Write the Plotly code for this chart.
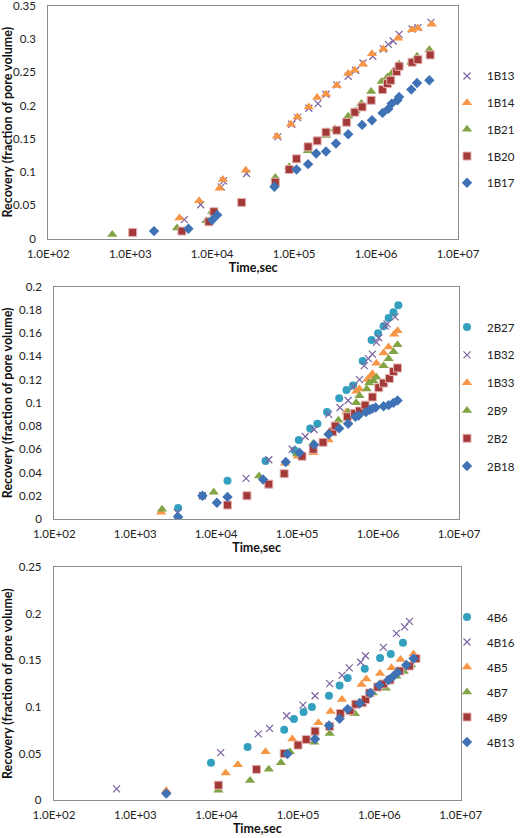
import plotly.graph_objects as go

# ---------------- Panel 1 ----------------
p1_names = ["1B13", "1B14", "1B21", "1B20", "1B17"]
t_1B13 = [4.57e3, 7.24e3, 1.29e4, 1.38e4, 2.63e4, 6.31e4, 9.33e4, 1.10e5, 1.51e5, 1.95e5, 2.45e5, 3.31e5,
          4.57e5, 5.62e5, 6.92e5, 9.12e5, 1.23e6, 1.41e6, 1.62e6, 1.91e6, 2.75e6, 3.24e6, 4.68e6]
r_1B13 = [0.0286, 0.051, 0.078, 0.087, 0.098, 0.153, 0.172, 0.182, 0.196, 0.203, 0.217, 0.231,
          0.244, 0.253, 0.264, 0.274, 0.285, 0.292, 0.297, 0.307, 0.315, 0.317, 0.325]
t_1B14 = [3.98e3, 6.92e3, 1.23e4, 1.35e4, 2.57e4, 6.17e4, 9.12e4, 1.10e5, 1.51e5, 1.91e5, 2.45e5, 3.31e5,
          4.57e5, 5.50e5, 6.92e5, 8.91e5, 1.23e6, 1.86e6, 2.75e6, 3.24e6, 4.79e6]
r_1B14 = [0.031, 0.057, 0.076, 0.089, 0.103, 0.154, 0.172, 0.183, 0.198, 0.212, 0.217, 0.230,
          0.248, 0.253, 0.262, 0.278, 0.285, 0.301, 0.314, 0.316, 0.322]
t_1B21 = [6.03e2, 3.72e3, 8.51e3, 1.00e4, 5.89e4, 8.71e4, 1.07e5, 1.48e5, 2.45e5, 3.16e5, 4.57e5, 5.62e5,
          6.61e5, 8.71e5, 1.17e6, 1.38e6, 1.55e6, 1.91e6, 2.69e6, 3.16e6, 4.47e6]
r_1B21 = [0.0065, 0.016, 0.027, 0.041, 0.092, 0.108, 0.119, 0.132, 0.155, 0.165, 0.184, 0.192,
          0.203, 0.221, 0.236, 0.243, 0.248, 0.262, 0.265, 0.274, 0.284]
t_1B20 = [1.07e3, 4.27e3, 9.12e3, 1.05e4, 2.29e4, 5.89e4, 8.71e4, 1.07e5, 1.48e5, 1.91e5, 2.45e5, 3.31e5,
          4.37e5, 5.50e5, 6.76e5, 8.71e5, 1.20e6, 1.38e6, 1.51e6, 1.78e6, 1.91e6, 2.75e6, 3.24e6, 4.57e6]
r_1B20 = [0.0095, 0.0115, 0.0255, 0.0406, 0.0546, 0.085, 0.104, 0.120, 0.138, 0.147, 0.160, 0.163,
          0.175, 0.190, 0.198, 0.208, 0.224, 0.233, 0.238, 0.251, 0.259, 0.265, 0.269, 0.276]
t_1B17 = [1.95e3, 5.13e3, 1.00e4, 1.15e4, 5.75e4, 1.07e5, 1.48e5, 1.86e5, 2.45e5, 3.24e5, 4.57e5, 6.76e5,
          8.91e5, 1.20e6, 1.41e6, 1.55e6, 1.82e6, 1.91e6, 2.69e6, 3.16e6, 4.47e6]
r_1B17 = [0.0115, 0.015, 0.028, 0.0356, 0.078, 0.104, 0.112, 0.128, 0.131, 0.143, 0.157, 0.171,
          0.178, 0.189, 0.195, 0.203, 0.208, 0.213, 0.224, 0.234, 0.238]

# ---------------- Panel 2 ----------------
p2_names = ["2B27", "1B32", "1B33", "2B9", "2B2", "2B18"]
t_2B27 = [3.39e3, 6.76e3, 1.38e4, 4.07e4, 9.33e4, 1.05e5, 1.45e5, 1.78e5, 2.34e5, 3.31e5, 4.07e5, 4.90e5,
          6.46e5, 8.32e5, 1.00e6, 1.17e6, 1.35e6, 1.55e6, 1.78e6]
r_2B27 = [0.0095, 0.020, 0.033, 0.050, 0.059, 0.068, 0.078, 0.082, 0.092, 0.104, 0.111, 0.115,
          0.136, 0.154, 0.160, 0.166, 0.173, 0.178, 0.184]
t_1B32 = [3.31e3, 6.76e3, 2.34e4, 4.47e4, 8.71e4, 1.26e5, 1.62e5, 2.45e5, 3.39e5, 4.27e5, 5.01e5, 5.89e5,
          6.76e5, 7.59e5, 8.51e5, 9.55e5, 1.02e6, 1.23e6, 1.29e6, 1.62e6]
r_1B32 = [0.0055, 0.020, 0.035, 0.051, 0.060, 0.071, 0.077, 0.090, 0.096, 0.102, 0.114, 0.120,
          0.132, 0.138, 0.142, 0.152, 0.156, 0.166, 0.168, 0.174]
t_1B33 = [2.09e3, 7.08e4, 1.02e5, 1.58e5, 2.45e5, 4.07e5, 5.37e5, 5.89e5, 7.41e5, 8.13e5, 8.51e5, 9.55e5,
          1.17e6, 1.35e6, 1.58e6, 1.74e6]
r_1B33 = [0.0057, 0.048, 0.054, 0.057, 0.068, 0.092, 0.110, 0.112, 0.120, 0.123, 0.125, 0.134,
          0.143, 0.148, 0.159, 0.162]
t_2B9 = [2.14e3, 9.33e3, 3.39e4, 1.00e5, 1.58e5, 2.45e5, 3.24e5, 4.27e5, 5.37e5, 5.89e5, 7.24e5, 7.76e5,
         8.71e5, 9.55e5, 1.17e6, 1.35e6, 1.55e6, 1.74e6]
r_2B9 = [0.0083, 0.023, 0.037, 0.056, 0.065, 0.074, 0.085, 0.092, 0.100, 0.106, 0.112, 0.117,
         0.119, 0.122, 0.132, 0.138, 0.144, 0.150]
t_2B2 = [1.38e4, 2.40e4, 4.47e4, 6.92e4, 1.15e5, 1.58e5, 2.09e5, 2.75e5, 2.95e5, 4.17e5, 5.13e5, 5.89e5,
         6.92e5, 8.51e5, 1.02e6, 1.17e6, 1.38e6, 1.55e6, 1.74e6]
r_2B2 = [0.012, 0.020, 0.030, 0.039, 0.054, 0.060, 0.066, 0.075, 0.080, 0.088, 0.091, 0.093,
         0.098, 0.105, 0.113, 0.117, 0.121, 0.127, 0.130]
t_2B18 = [3.39e3, 6.76e3, 1.02e4, 1.38e4, 3.80e4, 7.24e4, 1.07e5, 1.62e5, 2.45e5, 3.31e5, 4.27e5, 5.25e5,
          5.75e5, 7.08e5, 7.94e5, 8.51e5, 9.33e5, 1.17e6, 1.35e6, 1.55e6, 1.74e6]
r_2B18 = [0.0017, 0.020, 0.014, 0.019, 0.034, 0.049, 0.057, 0.064, 0.073, 0.078, 0.082, 0.088,
          0.089, 0.092, 0.094, 0.095, 0.096, 0.097, 0.098, 0.100, 0.102]

# ---------------- Panel 3 ----------------
p3_names = ["4B6", "4B16", "4B5", "4B7", "4B9", "4B13"]
t_4B6 = [8.51e3, 2.40e4, 6.76e4, 8.91e4, 1.17e5, 1.48e5, 2.40e5, 3.24e5, 4.07e5, 6.61e5, 1.02e6, 1.38e6, 1.95e6]
r_4B6 = [0.040, 0.057, 0.0755, 0.087, 0.0945, 0.100, 0.112, 0.123, 0.131, 0.141, 0.1525, 0.157, 0.169]
t_4B16 = [5.89e2, 1.12e4, 3.24e4, 4.47e4, 7.24e4, 1.15e5, 1.62e5, 2.45e5, 3.47e5, 4.27e5, 5.89e5, 6.76e5,
          1.12e6, 1.62e6, 2.04e6, 2.34e6]
r_4B16 = [0.012, 0.051, 0.071, 0.077, 0.0906, 0.102, 0.112, 0.125, 0.134, 0.142, 0.148, 0.155,
          0.164, 0.179, 0.186, 0.192]
t_4B5 = [2.40e3, 1.29e4, 1.82e4, 3.98e4, 8.51e4, 1.78e5, 2.51e5, 3.47e5, 6.03e5, 6.92e5, 1.02e6, 1.41e6,
         1.82e6, 2.63e6]
r_4B5 = [0.010, 0.029, 0.038, 0.052, 0.0655, 0.083, 0.095, 0.108, 0.124, 0.130, 0.136, 0.142, 0.151, 0.157]
t_4B7 = [1.05e4, 2.57e4, 4.37e4, 6.17e4, 7.94e4, 1.58e5, 2.45e5, 5.01e5, 8.32e5, 1.20e6, 1.62e6, 2.00e6, 2.45e6]
r_4B7 = [0.0104, 0.021, 0.033, 0.040, 0.052, 0.062, 0.0716, 0.0927, 0.115, 0.120, 0.133, 0.138, 0.145]
t_4B9 = [1.05e4, 3.09e4, 6.76e4, 1.00e5, 1.26e5, 1.62e5, 2.45e5, 3.31e5, 4.37e5, 5.13e5, 6.17e5, 6.76e5,
         7.59e5, 9.55e5, 1.12e6, 1.35e6, 1.78e6, 2.34e6, 2.82e6]
r_4B9 = [0.016, 0.033, 0.050, 0.059, 0.065, 0.074, 0.079, 0.093, 0.096, 0.103, 0.1045, 0.108,
         0.115, 0.1214, 0.1246, 0.129, 0.1386, 0.144, 0.152]
t_4B13 = [2.40e3, 7.41e4, 1.62e5, 2.40e5, 3.24e5, 4.07e5, 5.75e5, 7.76e5, 1.00e6, 1.29e6, 1.48e6, 1.66e6,
          2.14e6, 2.63e6]
r_4B13 = [0.007, 0.0494, 0.0655, 0.080, 0.0873, 0.0977, 0.104, 0.115, 0.1235, 0.129, 0.133, 0.137, 0.145, 0.152]

x_tickvals = [1e2, 1e3, 1e4, 1e5, 1e6, 1e7]
x_ticktext = ["1.0E+02", "1.0E+03", "1.0E+04", "1.0E+05", "1.0E+06", "1.0E+07"]
x_title = "Time,sec"
y_title = "Recovery (fraction of pore volume)"

# styles
BLUE, RED, GREEN, PURPLE, ORANGE, TEAL = "#3F72B5", "#A33A37", "#82A444", "#7B62A0", "#F79646", "#34A0BF"
STY = {
    "x": dict(symbol="x-thin", size=7, color=PURPLE, line=dict(color=PURPLE, width=1.2)),
    "tri_o": dict(symbol="triangle-up", size=9, color=ORANGE, line=dict(width=0)),
    "tri_g": dict(symbol="triangle-up", size=9, color=GREEN, line=dict(width=0)),
    "sq": dict(symbol="square", size=8, color=RED, line=dict(color="#E4B4B3", width=1)),
    "dia": dict(symbol="diamond", size=8, color=BLUE, line=dict(width=0)),
    "circ": dict(symbol="circle", size=8, color=TEAL, line=dict(width=0)),
}

panels = [
    (list(zip(p1_names, [t_1B13, t_1B14, t_1B21, t_1B20, t_1B17], [r_1B13, r_1B14, r_1B21, r_1B20, r_1B17],
              ["x", "tri_o", "tri_g", "sq", "dia"])),
     [0.0929, 0.8808], [0.7151, 0.9932], [0, 0.35], 0.05, 0.8455, 7.7),
    (list(zip(p2_names, [t_2B27, t_1B32, t_1B33, t_2B9, t_2B2, t_2B18],
              [r_2B27, r_1B32, r_1B33, r_2B9, r_2B2, r_2B18], ["circ", "x", "tri_o", "tri_g", "sq", "dia"])),
     [0.1044, 0.8827], [0.3807, 0.6579], [0, 0.2], 0.02, 0.5268, 8.8),
    (list(zip(p3_names, [t_4B6, t_4B16, t_4B5, t_4B7, t_4B9, t_4B13],
              [r_4B6, r_4B16, r_4B5, r_4B7, r_4B9, r_4B13], ["circ", "x", "tri_o", "tri_g", "sq", "dia"])),
     [0.1038, 0.8860], [0.0453, 0.3230], [0, 0.25], 0.05, 0.1891, 6.0),
]

FONT = "Lato"
fig = go.Figure()
layout = dict(width=520, height=838, margin=dict(l=0, r=0, t=0, b=0, autoexpand=False),
              paper_bgcolor="white", plot_bgcolor="white", showlegend=True,
              font=dict(family=FONT, size=11, color="#222"))

for i, (series, xd, yd, yr, dt, legy, gap) in enumerate(panels, start=1):
    xa = "x" if i == 1 else f"x{i}"
    ya = "y" if i == 1 else f"y{i}"
    lg = "legend" if i == 1 else f"legend{i}"
    for name, t, r, sty in series:
        fig.add_trace(go.Scatter(x=t, y=r, mode="markers", name=name, marker=STY[sty],
                                 xaxis=xa, yaxis=ya, legend=lg, legendgroup=name))
    axkey = "" if i == 1 else str(i)
    layout[f"xaxis{axkey}"] = dict(
        domain=xd, anchor=ya, type="log", range=[2, 7], tickvals=x_tickvals, ticktext=x_ticktext,
        showgrid=False, zeroline=False, showline=True, linecolor="#8C8C8C", linewidth=1.3, mirror=True,
        ticks="", ticklabelstandoff=4, tickfont=dict(size=11.5, color="#222"), automargin=False,
        ticklabeloverflow="allow",
        title=dict(text=f"<b>{x_title}</b>", font=dict(size=12.5, color="#111"), standoff=2))
    layout[f"yaxis{axkey}"] = dict(
        domain=yd, anchor=xa, range=yr, dtick=dt, tick0=0,
        showgrid=False, zeroline=False, showline=True, linecolor="#8C8C8C", linewidth=1.3, mirror=True,
        ticks="", ticklabelstandoff=9, tickfont=dict(size=11.5, color="#222"), automargin=False,
        ticklabeloverflow="allow",
        title=dict(text=f"<b>{y_title}</b>", font=dict(size=12.5, color="#111"), standoff=12))
    layout[lg] = dict(x=1.0, xanchor="right", y=legy, yanchor="middle", bgcolor="rgba(0,0,0,0)",
                      font=dict(size=11.5, color="#222"), tracegroupgap=gap, itemwidth=30,
                      traceorder="grouped")

fig.update_layout(**layout)
fig.write_html("out.html", config={"displayModeBar": False},
               post_script="document.body.style.margin='0';document.body.style.padding='0';")
